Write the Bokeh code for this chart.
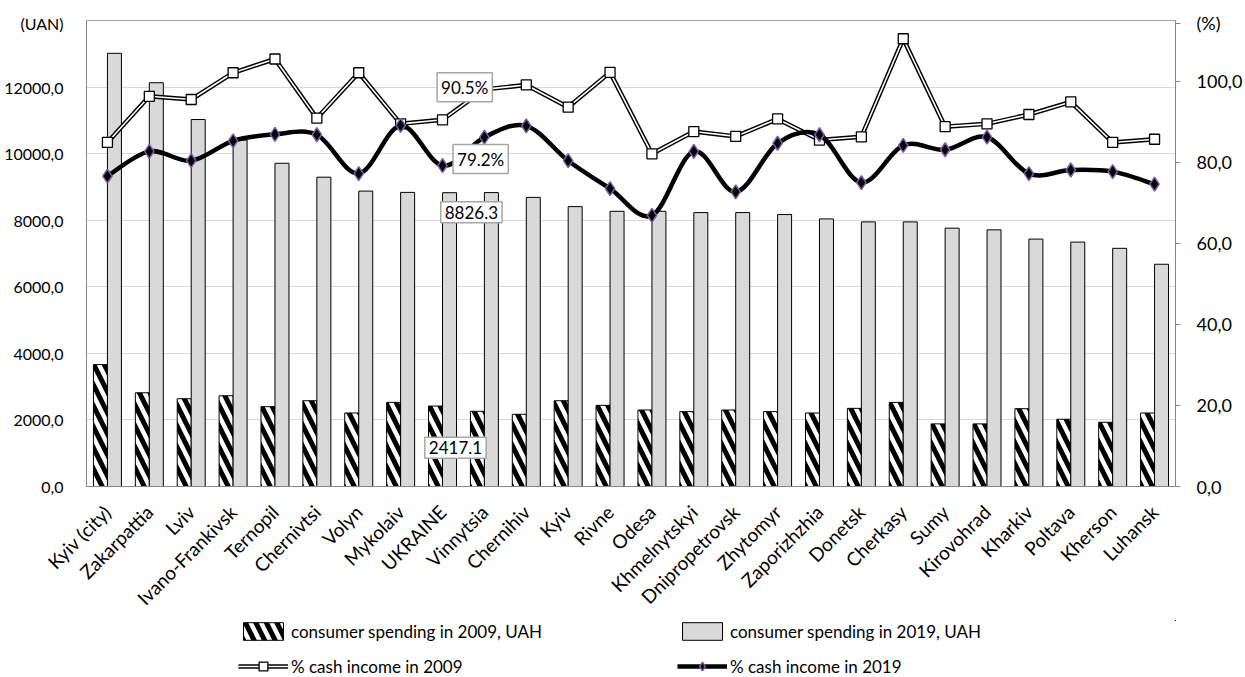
import numpy as np
from bokeh.plotting import figure
from bokeh.layouts import column
from bokeh.models import (Range1d, LinearAxis, FixedTicker, CustomJSTickFormatter,
                          Legend, LegendItem, Label, ColumnDataSource)
from bokeh.transform import dodge
from bokeh.embed import file_html
from bokeh.resources import INLINE

regions = ["Kyiv (city)", "Zakarpattia", "Lviv", "Ivano-Frankivsk", "Ternopil", "Chernivtsi",
           "Volyn", "Mykolaiv", "UKRAINE", "Vinnytsia", "Chernihiv", "Kyiv", "Rivne", "Odesa",
           "Khmelnytskyi", "Dnipropetrovsk", "Zhytomyr", "Zaporizhzhia", "Donetsk", "Cherkasy",
           "Sumy", "Kirovohrad", "Kharkiv", "Poltava", "Kherson", "Luhansk"]
spend_2009 = [3662, 2816, 2637, 2726, 2398, 2577, 2209, 2527, 2417.1, 2259, 2169, 2577, 2438,
              2298, 2249, 2298, 2249, 2209, 2348, 2527, 1881, 1881, 2338, 2020, 1930, 2209]
spend_2019 = [13015, 12130, 11025, 10408, 9711, 9293, 8875, 8836, 8826.3, 8830, 8686, 8408, 8268,
              8268, 8229, 8229, 8170, 8039, 7950, 7950, 7761, 7711, 7433, 7343, 7155, 6677]
cash_2009 = [84.9, 96.3, 95.5, 102.1, 105.5, 90.9, 102.1, 89.5, 90.5, 98.0, 99.1, 93.6, 102.2,
             82.1, 87.6, 86.4, 90.7, 85.5, 86.3, 110.5, 88.8, 89.5, 91.8, 94.9, 84.9, 85.7]
cash_2019 = [76.6, 82.7, 80.4, 85.3, 86.9, 86.8, 77.2, 89.1, 79.2, 86.2, 89.0, 80.4, 73.5,
             66.9, 82.7, 72.7, 84.7, 86.8, 75.0, 84.2, 83.1, 86.2, 77.2, 78.1, 77.7, 74.6]
left_ticks = [0, 2000, 4000, 6000, 8000, 10000, 12000]
right_ticks = [0, 20, 40, 60, 80, 100]
left_unit, right_unit = "(UAN)", "(%)"

FONT = "Lato"
n = len(regions)
xs = list(range(n))
src = ColumnDataSource(dict(x=xs, s09=spend_2009, s19=spend_2019, c09=cash_2009, c19=cash_2019))

LEFT_MAX, RIGHT_MAX = 14000, 115
p = figure(width=1245, height=620, x_range=Range1d(-0.5, n - 0.5),
           y_range=Range1d(0, LEFT_MAX), output_backend="svg", toolbar_location=None,
           min_border_left=86, min_border_top=20, min_border_right=70, min_border_bottom=133,
           background_fill_color="white", border_fill_color="white")
p.extra_y_ranges = {"pct": Range1d(0, RIGHT_MAX)}
p.outline_line_color = "#a6a6a6"

# unit captions sit level with the top of the frame, as extra tick labels
left_unit_pos = round(LEFT_MAX * 0.9936)
right_unit_pos = round(RIGHT_MAX * 0.9936, 2)

fmt = CustomJSTickFormatter(code="return tick.toFixed(1).replace('.', ',');")

# x axis
xa = p.xaxis[0]
xa.ticker = FixedTicker(ticks=xs)
xa.major_label_overrides = {i: r for i, r in enumerate(regions)}
xa.major_label_orientation = np.pi / 4
xa.major_tick_line_color = None
xa.minor_tick_line_color = None
xa.axis_line_color = "#868686"
xa.major_label_text_font = FONT
xa.major_label_text_font_size = "19px"
xa.major_label_text_color = "black"
xa.major_label_standoff = 16

# left axis
ya = p.yaxis[0]
ya.ticker = FixedTicker(ticks=left_ticks + [left_unit_pos])
ya.formatter = fmt
ya.major_label_overrides = {left_unit_pos: left_unit}
ya.major_tick_line_color = None
ya.minor_tick_line_color = None
ya.axis_line_color = "#868686"
ya.major_label_text_font = FONT
ya.major_label_text_font_size = "16px"
ya.major_label_text_color = "black"
ya.major_label_standoff = 17

# right axis
ra = LinearAxis(y_range_name="pct", ticker=FixedTicker(ticks=right_ticks + [right_unit_pos]),
                formatter=fmt)
ra.major_label_overrides = {right_unit_pos: right_unit}
ra.major_tick_out = 5
ra.major_tick_in = 0
ra.major_tick_line_color = "#868686"
ra.minor_tick_line_color = None
ra.axis_line_color = "#868686"
ra.major_label_text_font = FONT
ra.major_label_text_font_size = "18px"
ra.major_label_text_color = "black"
ra.major_label_standoff = 16
p.add_layout(ra, "right")

p.xgrid.visible = False
p.ygrid.ticker = FixedTicker(ticks=left_ticks)
p.ygrid.grid_line_color = "#d9d9d9"
p.ygrid.grid_line_width = 1

bar09_style = dict(fill_color="white", line_color="black", line_width=1,
                   hatch_pattern="\\", hatch_color="black", hatch_weight=5, hatch_scale=21)
bar19_style = dict(fill_color="#d9d9d9", line_color="black", line_width=1)
line09b_style = dict(line_color="black", line_width=4.5)
line09w_style = dict(line_color="white", line_width=1.6)
sq_style = dict(marker="square", size=10, fill_color="white", line_color="black", line_width=1.3)
line19_style = dict(line_color="black", line_width=4.5)
dm_style = dict(marker="diamond", size=14, fill_color="black", line_color="#7a5fa8", line_width=1.5)

# bars
p.vbar(x=dodge("x", -0.167, range=p.x_range), top="s09", width=0.334, bottom=0,
       source=src, **bar09_style)
p.vbar(x=dodge("x", 0.167, range=p.x_range), top="s19", width=0.334, bottom=0,
       source=src, **bar19_style)

# 2009 line (double line)
p.line("x", "c09", y_range_name="pct", source=src, **line09b_style)
p.line("x", "c09", y_range_name="pct", source=src, **line09w_style)
p.scatter("x", "c09", y_range_name="pct", source=src, **sq_style)

# 2019 smoothed line (Catmull-Rom style Bezier through the data points)
x0, y0, x1, y1, cx0, cy0, cx1, cy1 = [], [], [], [], [], [], [], []
for i in range(n - 1):
    im1 = max(i - 1, 0)
    ip2 = min(i + 2, n - 1)
    x0.append(xs[i]); y0.append(cash_2019[i])
    x1.append(xs[i + 1]); y1.append(cash_2019[i + 1])
    cx0.append(xs[i] + (xs[i + 1] - xs[im1]) / 6)
    cy0.append(cash_2019[i] + (cash_2019[i + 1] - cash_2019[im1]) / 6)
    cx1.append(xs[i + 1] - (xs[ip2] - xs[i]) / 6)
    cy1.append(cash_2019[i + 1] - (cash_2019[ip2] - cash_2019[i]) / 6)
bz = ColumnDataSource(dict(x0=x0, y0=y0, x1=x1, y1=y1, cx0=cx0, cy0=cy0, cx1=cx1, cy1=cy1))
p.bezier(x0="x0", y0="y0", x1="x1", y1="y1", cx0="cx0", cy0="cy0", cx1="cx1", cy1="cy1",
         y_range_name="pct", source=bz, **line19_style)
p.scatter("x", "c19", y_range_name="pct", source=src, **dm_style)

# data labels for UKRAINE
u = regions.index("UKRAINE")
lab_style = dict(text_font=FONT, text_font_size="17px", text_color="black",
                 text_align="center", text_baseline="middle",
                 background_fill_color="white", border_line_color="#a6a6a6",
                 border_line_width=1.5, padding=4)
p.add_layout(Label(x=u + 0.53, y=cash_2009[u] + 8.0, y_range_name="pct",
                   text=f"{cash_2009[u]:.1f}%", **lab_style))
p.add_layout(Label(x=u + 0.91, y=cash_2019[u] + 1.6, y_range_name="pct",
                   text=f"{cash_2019[u]:.1f}%", **lab_style))
p.add_layout(Label(x=u + 0.69, y=spend_2019[u] - 590, text=f"{spend_2019[u]:.1f}", **lab_style))
p.add_layout(Label(x=u + 0.31, y=spend_2009[u] - 1253, text=f"{spend_2009[u]:.1f}", **lab_style))

# legend in its own strip below the chart (its ranges keep the series out of view)
lf = figure(width=1245, height=57, x_range=Range1d(-3, -2), y_range=Range1d(-2, -1),
            x_axis_type=None, y_axis_type=None, output_backend="svg", toolbar_location=None,
            min_border=0, background_fill_color="white", border_fill_color="white")
lf.outline_line_color = None
lf.grid.visible = False
g1 = lf.vbar(x="x", top="s09", width=0.334, source=src, **bar09_style)
g2 = lf.vbar(x="x", top="s19", width=0.334, source=src, **bar19_style)
g3a = lf.line("x", "c09", source=src, **line09b_style)
g3b = lf.line("x", "c09", source=src, **line09w_style)
g3c = lf.scatter("x", "c09", source=src, **sq_style)
g4a = lf.line("x", "c19", source=src, **line19_style)
g4b = lf.scatter("x", "c19", source=src, **dm_style)
legend = Legend(items=[
    LegendItem(label="consumer spending in 2009, UAH", renderers=[g1]),
    LegendItem(label="consumer spending in 2019, UAH", renderers=[g2]),
    LegendItem(label="% cash income in 2009", renderers=[g3a, g3b, g3c]),
    LegendItem(label="% cash income in 2019", renderers=[g4a, g4b]),
], ncols=2, orientation="horizontal", location=(152, 0),
    glyph_width=50, glyph_height=22, label_height=20, label_standoff=3, label_width=373,
    spacing=13, label_text_font=FONT, label_text_font_size="17px", label_text_color="black",
    padding=0, margin=0, border_line_color=None, background_fill_alpha=0)
lf.add_layout(legend)

layout = column(p, lf, spacing=0)
open("out.html", "w").write(file_html(layout, INLINE))
